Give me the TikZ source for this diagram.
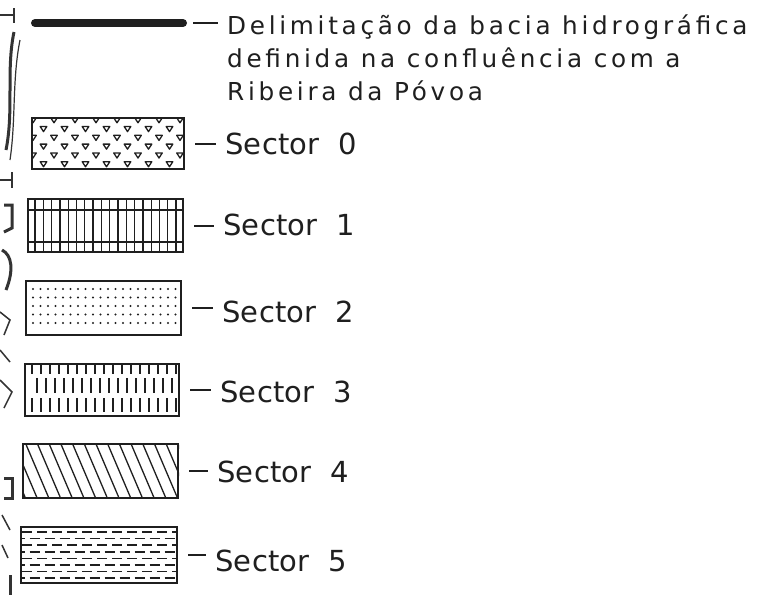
\documentclass[tikz,border=0pt]{standalone}
\usepackage{fontspec}
\setmainfont{DejaVu Sans}
\newfontfamily\delimfont[LetterSpace=15]{DejaVu Sans}
\newfontfamily\sectfont[LetterSpace=1]{DejaVu Sans}
\usetikzlibrary{positioning}
\colorlet{inkblack}{black!88}
\colorlet{mapgrey}{black!80}

\begin{document}
\begin{tikzpicture}[x=1pt,y=-1pt,
    legbox/.style={draw=inkblack, line width=2.2pt, inner sep=0pt, anchor=north west},
    legtext/.style={anchor=base west, inner sep=0pt, text=inkblack, font=\sectfont\fontsize{29}{33}\selectfont},
    delimtext/.style={legtext, font=\delimfont\fontsize{24.7}{33}\selectfont},
    legdash/.style={draw=inkblack, line width=2pt, shorten <=10pt, shorten >=9pt},
    hatch/.style={inkblack, line width=1.3pt}]
        \useasboundingbox[fill=white] (0,0) rectangle (765,595);
        % bits of the map cut off at the left edge
        \draw[mapgrey, line width=2.5pt] (0,15) -- (14,15) (14,8) -- (14,23);
        \draw[mapgrey, line width=3pt] (14,32) .. controls (6,70) and (14,110) .. (6,150);
        \draw[mapgrey, line width=1.2pt] (20,40) .. controls (12,80) and (16,120) .. (10,160);
        \draw[mapgrey, line width=2.5pt] (0,180) -- (12,180) (12,172) -- (12,188);
        \draw[mapgrey, line width=3pt] (4,205) -- (12,205) -- (12,228) -- (4,232);
        \draw[mapgrey, line width=3pt] (2,250) .. controls (12,255) and (14,270) .. (6,290);
        \draw[mapgrey, line width=1.5pt] (0,312) -- (10,320) -- (4,335) (0,350) -- (10,362);
        \draw[mapgrey, line width=1.5pt] (0,380) -- (12,392) -- (4,408);
        \draw[mapgrey, line width=3pt] (4,478) -- (12,478) -- (12,498) -- (4,498);
        \draw[mapgrey, line width=1.5pt] (2,515) -- (10,530) (2,545) -- (8,558);
        \draw[mapgrey, line width=3pt] (10,575) -- (10,595);
        % boundary line
        \coordinate (bstart) at (35,23);
        \coordinate (bend) at (183,23);
        \draw[inkblack, line width=8pt, line cap=round] (bstart) -- (bend);
        \node[delimtext] (delim1) at (227,34) {Delimitação da bacia hidrográfica};
        \node[delimtext] (delim2) at (227,67) {definida na confluência com a};
        \node[delimtext] (delim3) at (227,100) {Ribeira da Póvoa};
        \draw[legdash] (bend) -- (bend -| delim1.west);
        % the six boxes
        \node[legbox, minimum width=152pt, minimum height=51pt] (box0) at (31,117) {};
        \node[legbox, minimum width=155pt, minimum height=53pt] (box1) at (27,198) {};
        \node[legbox, minimum width=155pt, minimum height=54pt] (box2) at (25,280) {};
        \node[legbox, minimum width=154pt, minimum height=52pt] (box3) at (24,363) {};
        \node[legbox, minimum width=155pt, minimum height=54pt] (box4) at (22,443) {};
        \node[legbox, minimum width=156pt, minimum height=56pt] (box5) at (20,526) {};
        % sector 0: small triangles
        \begin{scope}
            \clip (box0.south west) rectangle (box0.north east);
            \foreach \r in {0,...,5}{
                \foreach \c in {0,...,8}{
                    \pgfmathsetmacro{\tx}{33+21*\c+10.5*mod(\r,2)}
                    \pgfmathsetmacro{\ty}{120+8.8*\r}
                    \draw[inkblack, line width=1.3pt, line join=round] (\tx-3.3,\ty-2.3) -- (\tx+3.3,\ty-2.3) -- (\tx,\ty+2.8) -- cycle;
                }
            }
        \end{scope}
        % sector 1: vertical lines and two rails
        \foreach \x in {35,43.3,...,180}{
            \draw[hatch] (\x,198) -- (\x,251);
        }
        \draw[hatch, line width=1.7pt] (27,210) -- (182,210) (27,242) -- (182,242);
        % sector 2: dots
        \foreach \y in {289,297.5,...,324}{
            \foreach \x in {33,40.5,...,177}{
                \fill[inkblack] (\x,\y) circle (1.1pt);
            }
        }
        % sector 3: staggered ticks
        \foreach \x in {32,41,...,176}{
            \draw[inkblack, line width=2pt] (\x,364) -- (\x,374) (\x,398) -- (\x,412);
        }
        \foreach \x in {36.5,45.5,...,176}{
            \draw[inkblack, line width=2pt] (\x,378) -- (\x,393);
        }
        % sector 4: diagonal lines
        \begin{scope}
            \clip (box4.south west) rectangle (box4.north east);
            \foreach \x in {2,13.7,...,180}{
                \draw[hatch] (\x,443) -- (\x+23,497);
            }
        \end{scope}
        % sector 5: staggered dashes
        \begin{scope}
            \clip (box5.south west) rectangle (box5.north east);
            \foreach \r in {0,...,7}{
                \pgfmathsetmacro{\dy}{532+6.6*\r}
                \pgfmathsetmacro{\ph}{7.5*mod(\r,2)}
                \draw[inkblack, line width=1.6pt, dash pattern=on 10pt off 5pt, dash phase=\ph pt] (22,\dy) -- (176,\dy);
            }
        \end{scope}
        % labels
        \node[legtext] (lab0) at (225,154) {Sector\ \ 0};
        \node[legtext] (lab1) at (223,235) {Sector\ \ 1};
        \node[legtext] (lab2) at (222,322) {Sector\ \ 2};
        \node[legtext] (lab3) at (220,402) {Sector\ \ 3};
        \node[legtext] (lab4) at (217,482) {Sector\ \ 4};
        \node[legtext] (lab5) at (215,571) {Sector\ \ 5};
        \foreach \i in {0,...,5}{
            \draw[legdash] (box\i.east) -- (box\i.east -| lab\i.west);
        }
    \end{tikzpicture}
\end{document}
